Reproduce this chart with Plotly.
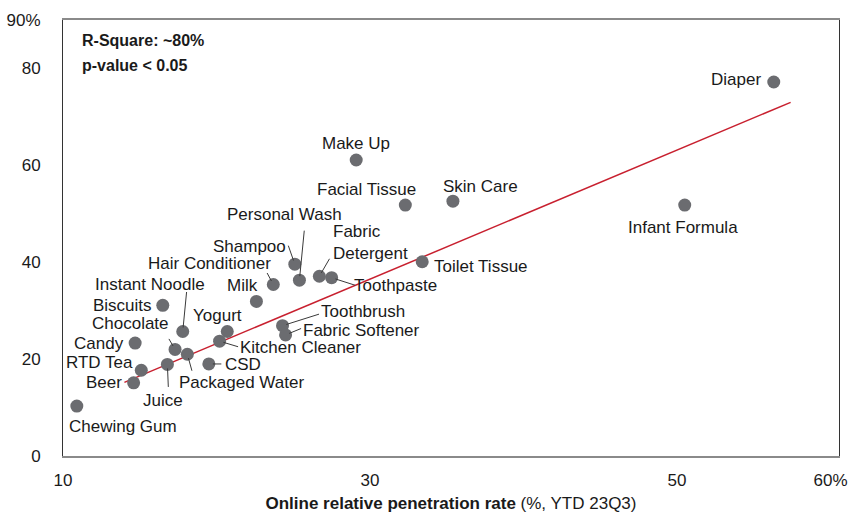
import plotly.graph_objects as go

# ---- data ----
categories = ["Chewing Gum", "Beer", "RTD Tea", "Candy", "Juice", "Biscuits", "Chocolate",
              "Instant Noodle", "Packaged Water", "CSD", "Kitchen Cleaner", "Yogurt", "Milk",
              "Hair Conditioner", "Toothbrush", "Fabric Softener", "Shampoo", "Personal Wash",
              "Fabric Detergent", "Toothpaste", "Make Up", "Facial Tissue", "Toilet Tissue",
              "Skin Care", "Infant Formula", "Diaper"]
online_penetration = [10.9, 14.6, 15.1, 14.7, 16.8, 16.5, 17.3, 17.8, 18.1, 19.5, 20.2, 20.7, 22.6,
                      23.7, 24.3, 24.5, 25.1, 25.4, 26.7, 27.5, 29.1, 32.3, 33.4, 35.4, 50.5, 56.3]
y_values = [10.3, 15.1, 17.7, 23.3, 18.9, 31.1, 22.0, 25.7, 21.0, 19.0, 23.7, 25.7, 31.9,
            35.4, 26.9, 25.0, 39.6, 36.3, 37.1, 36.8, 61.1, 51.8, 40.1, 52.6, 51.8, 77.2]
trend_x = [14.0, 57.4]
trend_y = [15.2, 73.0]
x_tick_vals = [10, 30, 50, 60]
x_tick_text = ["10", "30", "50", "60%"]
y_tick_vals = [0, 20, 40, 60, 80, 90]
y_tick_text = ["0", "20", "40", "60", "80", "90%"]

# ---- label layout: text-centre pixel offset from point (dx, dy down) ----
label_offsets = {
    "Chewing Gum": (46, 20), "Beer": (-30, 0), "RTD Tea": (-42, -8), "Candy": (-36, 0),
    "Juice": (-4, 36), "Biscuits": (-40, 0), "Chocolate": (-45, -26),
    "Instant Noodle": (-33, -47), "Packaged Water": (54, 28), "CSD": (34, 1),
    "Kitchen Cleaner": (81, 6), "Yogurt": (-10, -16), "Milk": (-14, -16),
    "Hair Conditioner": (-64, -21), "Toothbrush": (80, -14), "Fabric Softener": (76, -4),
    "Shampoo": (-45, -18), "Personal Wash": (-15, -66), "Fabric Detergent": (51, -34),
    "Toothpaste": (64, 8), "Make Up": (0, -17), "Facial Tissue": (-39, -16),
    "Toilet Tissue": (59, 5), "Skin Care": (28, -15), "Infant Formula": (-2, 22),
    "Diaper": (-38, -3),
}
# leader-line tail offsets (pixels from point)
leader_tails = {
    "Personal Wash": (5, -51), "Shampoo": (-7, -20), "Hair Conditioner": (-7, -13),
    "Fabric Detergent": (11, -19), "Toothpaste": (25, 8), "Toothbrush": (38, -12),
    "Fabric Softener": (17, -7), "Kitchen Cleaner": (20, 6), "CSD": (14, 0),
    "Packaged Water": (5, 18), "Juice": (1, 24), "Chocolate": (-7, -12),
    "Instant Noodle": (4, -41),
}

FONT = "Liberation Sans, Arial, sans-serif"
TXT = "#1a1a1a"

fig = go.Figure()
fig.add_trace(go.Scatter(x=trend_x, y=trend_y, mode="lines",
                         line=dict(color="#c8202f", width=1.5), hoverinfo="skip"))
fig.add_trace(go.Scatter(x=online_penetration, y=y_values, mode="markers",
                         marker=dict(color="#6b6c70", size=13), text=categories))

annotations = []
for name, xv, yv in zip(categories, online_penetration, y_values):
    if name in leader_tails:
        tx, ty = leader_tails[name]
        annotations.append(dict(
            x=xv, y=yv, xref="x", yref="y", text="", showarrow=True,
            ax=tx, ay=ty, arrowhead=0, arrowwidth=1, standoff=4,
            arrowcolor="#3a3a3a"))
for name, xv, yv in zip(categories, online_penetration, y_values):
    dx, dy = label_offsets[name]
    text = "Fabric<br>Detergent" if name == "Fabric Detergent" else name
    annotations.append(dict(
        x=xv, y=yv, xref="x", yref="y", text=text, showarrow=False,
        xshift=dx, yshift=-dy, xanchor="center", yanchor="middle",
        align="left", font=dict(family=FONT, size=17, color=TXT), borderpad=0))

annotations.append(dict(x=0.022, y=0.953, xref="paper", yref="paper", xanchor="left",
                        yanchor="middle", text="<b>R-Square: ~80%</b>", showarrow=False,
                        font=dict(family=FONT, size=16, color=TXT)))
annotations.append(dict(x=0.022, y=0.896, xref="paper", yref="paper", xanchor="left",
                        yanchor="middle", text="<b>p-value < 0.05</b>", showarrow=False,
                        font=dict(family=FONT, size=16, color=TXT)))

fig.update_layout(
    width=855, height=513,
    margin=dict(l=63, r=16, t=20, b=57, autoexpand=False),
    paper_bgcolor="white", plot_bgcolor="white",
    showlegend=False,
    font=dict(family=FONT, size=17, color=TXT),
    annotations=annotations,
    xaxis=dict(range=[10, 60.55], tickvals=x_tick_vals, ticktext=x_tick_text,
               showgrid=False, zeroline=False, showline=True, linecolor="#8a8a8a",
               linewidth=1.5, mirror=True, ticks="", ticklabelstandoff=8, automargin=False,
               tickfont=dict(family=FONT, size=17, color=TXT),
               title=dict(text="<b>Online relative penetration rate</b> (%, YTD 23Q3)",
                          font=dict(family=FONT, size=17, color=TXT), standoff=10)),
    yaxis=dict(range=[0, 90], tickvals=y_tick_vals, ticktext=y_tick_text,
               showgrid=False, zeroline=False, showline=True, linecolor="#333333",
               linewidth=1, mirror=True, ticks="", ticklabelstandoff=18, automargin=False,
               tickfont=dict(family=FONT, size=17, color=TXT)),
)

fig.write_html("out.html", config={"displayModeBar": False},
               post_script="document.body.style.margin='0px';document.body.style.overflow='hidden';")
